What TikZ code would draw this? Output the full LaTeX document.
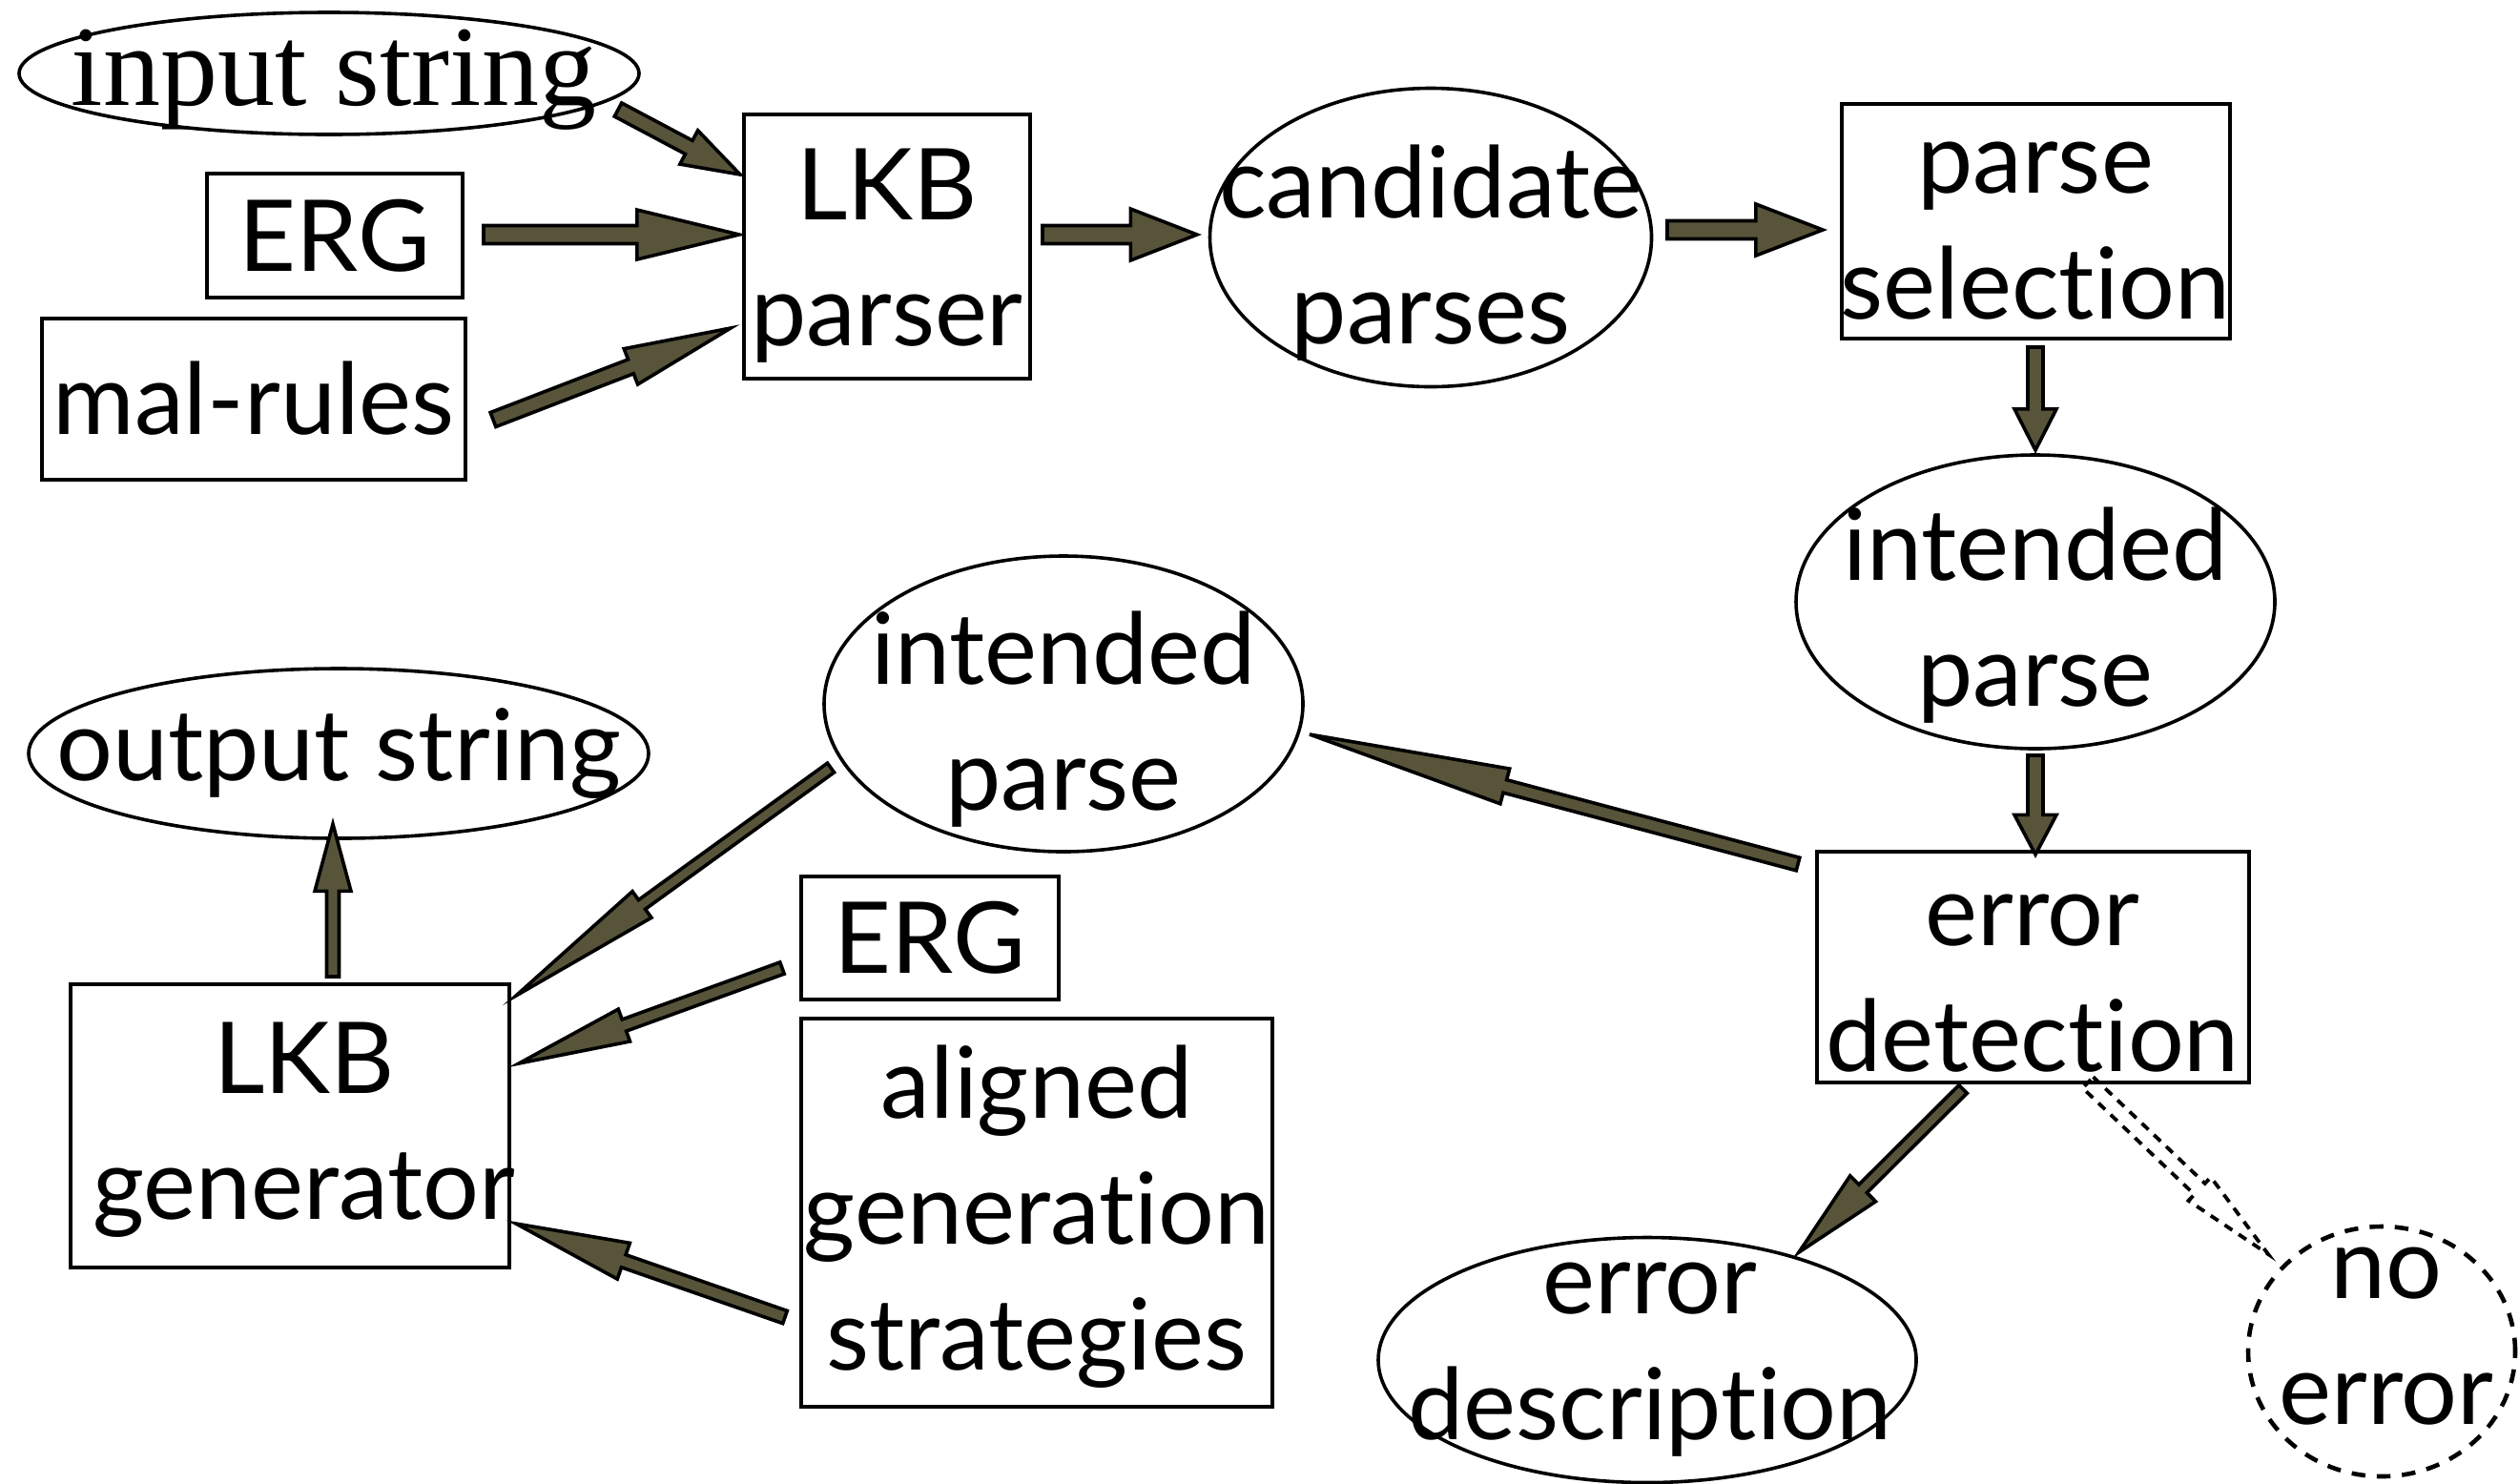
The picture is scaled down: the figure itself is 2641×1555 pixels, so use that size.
\documentclass[tikz,border=0pt]{standalone}
\usepackage{fontspec}
\setmainfont{Lato}[RawFeature={-liga;-clig;-dlig;-calt}]
\newfontfamily\serifin{Liberation Serif}
\usetikzlibrary{shapes.geometric,calc}
\definecolor{arrowol}{RGB}{88,84,58}
\newcommand\barrow[6][]{%
  \filldraw[blockarrow,#1]
  ($(#2)!#5*0.25pt!90:(#3)$) --
  ($(#3)!#4!(#2)!#5*0.25pt!90:(#3)$) --
  ($(#3)!#4!(#2)!#6*0.25pt!90:(#3)$) --
  (#3) --
  ($(#3)!#4!(#2)!#6*0.25pt!-90:(#3)$) --
  ($(#3)!#4!(#2)!#5*0.25pt!-90:(#3)$) --
  ($(#2)!#5*0.25pt!-90:(#3)$) -- cycle;}
\tikzset{
  boxn/.style={draw, line width=1pt, rectangle, inner sep=0},
  elln/.style={draw, line width=0.9pt, ellipse, inner sep=0},
  sz/.style 2 args={minimum width=#1*0.25pt, minimum height=#2*0.25pt},
  lbl/.style={font=\fontsize{26}{33}\selectfont, align=center, inner sep=0},
  blockarrow/.style={fill=arrowol, draw=black, line width=0.9pt, line join=miter},
  hollowarrow/.style={fill=none, draw=black, line width=0.95pt, dash pattern=on 2.4pt off 2pt},
  dashell/.style={dash pattern=on 3.6pt off 3pt, line width=1.15pt},
}
\begin{document}
\begin{tikzpicture}[x=0.25pt,y=-0.25pt]
\useasboundingbox (0,0) rectangle (2641,1555);
% nodes
\node[elln, sz={650}{128}] (instr) at (345,77) {};
\node[lbl, font=\serifin\fontsize{30}{33}\selectfont, anchor=base] (instr-t) at (350,110) {input string};
\node[boxn, sz={268}{130}] (erg1) at (351,247) {};
\node[lbl] (erg1-t) at (erg1) {ERG};
\node[boxn, sz={444}{169}] (mal) at (266,418) {};
\node[lbl] (mal-t) at (mal) {mal-rules};
\node[boxn, sz={300}{277}] (lkbp) at (930,258) {};
\node[lbl] (lkbp-t) at (930,268) {LKB\\parser};
\node[elln, sz={463}{313}] (cand) at (1500,249) {};
\node[lbl] (cand-t) at (1500,265) {candidate\\parses};
\node[boxn, sz={407}{246}] (psel) at (2134,232) {};
\node[lbl] (psel-t) at (2134,242) {parse\\selection};
\node[elln, sz={502}{308}] (ipr) at (2134,631) {};
\node[lbl] (ipr-t) at (2134,645) {intended\\parse};
\node[boxn, sz={453}{242}] (edet) at (2131,1014) {};
\node[lbl] (edet-t) at (2131,1031) {error\\detection};
\node[elln, sz={564}{257}] (edesc) at (1727,1426) {};
\node[lbl] (edesc-t) at (1730,1426) {error\\description};
\node[elln, dashell, sz={280}{262}] (noerr) at (2497,1417) {};
\node[lbl] (noerr-t) at (2502,1401) {no\\error};
\node[elln, sz={502}{310}] (ipl) at (1115,738) {};
\node[lbl] (ipl-t) at (1115,754) {intended\\parse};
\node[elln, sz={650}{178}] (outs) at (355,790) {};
\node[lbl] (outs-t) at (outs) {output string};
\node[boxn, sz={460}{297}] (lkbg) at (304,1180) {};
\node[lbl] (lkbg-t) at (319,1185) {LKB\\generator};
\node[boxn, sz={270}{129}] (erg2) at (975,983) {};
\node[lbl] (erg2-t) at (erg2) {ERG};
\node[boxn, sz={494}{407}] (algn) at (1087,1271) {};
\node[lbl] (algn-t) at (1087,1276) {aligned\\generation\\strategies};
% arrow end points
\coordinate (a1s) at (648,115);  \coordinate (a1e) at (776,183);
\coordinate (a2s) at (507,246);  \coordinate (a2e) at (775,246);
\coordinate (a3s) at (517,440);  \coordinate (a3e) at (766,344);
\coordinate (a4s) at (1093,246); \coordinate (a4e) at (1255,246);
\coordinate (a5s) at (1748,241); \coordinate (a5e) at (1911,241);
\coordinate (a6s) at (2134,364); \coordinate (a6e) at (2134,472);
\coordinate (a7s) at (2134,792); \coordinate (a7e) at (2134,896);
\coordinate (a8s) at (1885,906); \coordinate (a8e) at (1373,770);
\coordinate (a9s) at (871,805);  \coordinate (a9e) at (541,1044);
\coordinate (a10s) at (820,1015); \coordinate (a10e) at (544,1115);
\coordinate (a11s) at (823,1381); \coordinate (a11e) at (541,1283);
\coordinate (a12s) at (349,1024); \coordinate (a12e) at (349,864);
\coordinate (a13s) at (2058,1142); \coordinate (a13e) at (1886,1313);
\coordinate (a14s) at (2189,1135); \coordinate (a14e) at (2378,1315);
% arrows
\barrow{a1s}{a1e}{0.42}{8}{20}
\barrow{a2s}{a2e}{0.40}{9.5}{26}
\barrow{a3s}{a3e}{0.42}{8}{20}
\barrow{a4s}{a4e}{0.43}{9.5}{27}
\barrow{a5s}{a5e}{0.43}{9.5}{27}
\barrow{a6s}{a6e}{0.40}{8}{22}
\barrow{a7s}{a7e}{0.40}{8}{22}
\barrow{a8s}{a8e}{0.40}{7}{19}
\barrow{a9s}{a9e}{0.40}{6}{17}
\barrow{a10s}{a10e}{0.40}{6.5}{18}
\barrow{a11s}{a11e}{0.40}{7}{20}
\barrow{a12s}{a12e}{0.44}{6.5}{19}
\barrow{a13s}{a13e}{0.39}{6}{19}
\barrow[hollowarrow]{a14s}{a14e}{0.38}{8}{17}
\end{tikzpicture}
\end{document}
